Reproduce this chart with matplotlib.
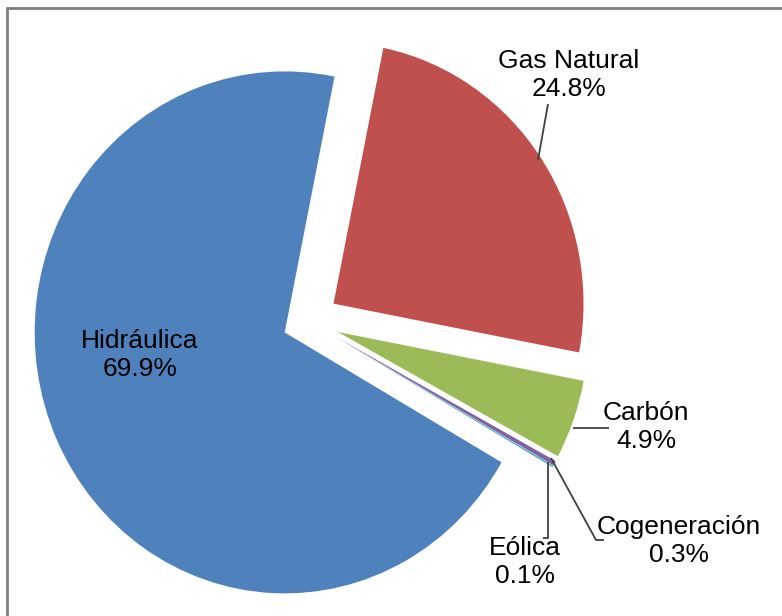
import matplotlib
matplotlib.use("Agg")
import matplotlib.pyplot as plt
from matplotlib.patches import Rectangle

labels = ["Gas Natural", "Carbón", "Cogeneración", "Eólica", "Hidráulica"]
values = [24.8, 4.9, 0.3, 0.1, 69.9]
pct_labels = ["24.8%", "4.9%", "0.3%", "0.1%", "69.9%"]
colors = ["#C0504D", "#9BBB59", "#8064A2", "#4BACC6", "#4F81BD"]
explode = [0.12, 0.125, 0.125, 0.125, 0.105]

W, H = 782, 616
fig = plt.figure(figsize=(W / 100, H / 100), dpi=100)
ax = fig.add_axes([0, 0, 1, 1])

# pixel mapping (center and radii in pixels)
CX, CY, RX, RY = 308.6, 321.1, 250.0, 261.0


def px(x, y):
    return ((x - CX) / RX, (CY - y) / RY)


ax.pie(values, colors=colors, explode=explode, startangle=78.5,
       counterclock=False, wedgeprops=dict(linewidth=0))
ax.set_aspect("auto")
ax.set_xlim(-CX / RX, (W - CX) / RX)
ax.set_ylim((CY - H) / RY, CY / RY)
ax.axis("off")

font = dict(family=["Liberation Sans", "DejaVu Sans"], fontsize=19,
            ha="center", va="center", linespacing=1.25, color="#000000")

label_pos = {
    "Gas Natural": (569, 75),
    "Carbón": (646, 427),
    "Cogeneración": (679, 541),
    "Eólica": (525, 562),
    "Hidráulica": (140, 355),
}
for lab, pct in zip(labels, pct_labels):
    x, y = px(*label_pos[lab])
    ax.text(x, y, f"{lab}\n{pct}", **font)

leaders = [
    [(538, 160), (548, 104)],
    [(573, 428), (609, 428)],
    [(551, 458), (596, 540), (604, 540)],
    [(548, 462), (548, 538), (543, 538)],
]
for pts in leaders:
    xs, ys = zip(*[px(*p) for p in pts])
    ax.plot(xs, ys, color="#404040", lw=1.3, solid_capstyle="butt")

fig.patches.append(Rectangle((7 / W, -0.02), 1.1, 1 - 8 / H + 0.02,
                             transform=fig.transFigure, fill=False,
                             edgecolor="#7f7f7f", linewidth=2))

fig.savefig("out.png", dpi=100)
